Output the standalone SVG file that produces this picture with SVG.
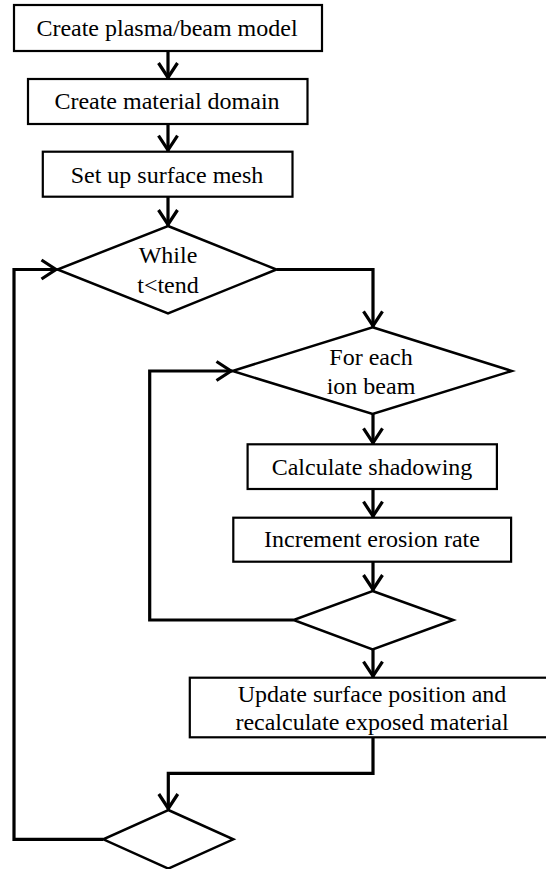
<svg xmlns="http://www.w3.org/2000/svg" width="546" height="869" viewBox="0 0 546 869">
<style>
.box{fill:#fff;stroke:#000;stroke-width:2.2}
.dia{fill:#fff;stroke:#000;stroke-width:2.5;stroke-linejoin:miter}
.t{font-family:"Liberation Serif","Times New Roman",serif;font-size:24px;fill:#000;text-anchor:middle}
.c{fill:none;stroke:#000;stroke-width:3.2;stroke-linejoin:miter}
</style>
<defs>
<marker id="ah" markerUnits="userSpaceOnUse" markerWidth="24" markerHeight="24" viewBox="-20 -12 24 24" refX="0" refY="0" orient="auto" overflow="visible">
<path d="M-16,-9.5 L-1.5,0 L-16,9.5" fill="none" stroke="#000" stroke-width="3.2" stroke-linejoin="miter"/>
</marker>
</defs>
<rect width="546" height="869" fill="#fff"/>
<g id="connectors">
<path class="c" d="M168,51 V79" marker-end="url(#ah)"/>
<path class="c" d="M168,124 V151.7" marker-end="url(#ah)"/>
<path class="c" d="M168,196.7 V226" marker-end="url(#ah)"/>
<path class="c" d="M276.5,269.5 H373 V327.3" marker-end="url(#ah)"/>
<path class="c" d="M373,414 V444.3" marker-end="url(#ah)"/>
<path class="c" d="M373,489 V517.7" marker-end="url(#ah)"/>
<path class="c" d="M373,561.7 V591" marker-end="url(#ah)"/>
<path class="c" d="M293.5,620 H149.7 V371 H232.5" marker-end="url(#ah)"/>
<path class="c" d="M373,649.3 V677.7" marker-end="url(#ah)"/>
<path class="c" d="M373,737.3 V773.3 H168.3 V810" marker-end="url(#ah)"/>
<path class="c" d="M103.3,839.3 H14 V269.5 H57.5" marker-end="url(#ah)"/>
</g>
<g id="n1"><rect class="box" x="14" y="5" width="308" height="46"/><text class="t" x="167" y="36">Create plasma/beam model</text></g>
<g id="n2"><rect class="box" x="28" y="79" width="279.5" height="45"/><text class="t" x="167" y="109.3">Create material domain</text></g>
<g id="n3"><rect class="box" x="42.8" y="151.7" width="249.7" height="45"/><text class="t" x="167" y="183.3">Set up surface mesh</text></g>
<g id="n4"><polygon class="dia" points="168,226 276.5,269.5 168,313.3 57.5,269.5"/><text class="t" x="168" y="263.3">While</text><text class="t" x="168" y="292.7">t&lt;tend</text></g>
<g id="n5"><polygon class="dia" points="372.6,327.3 511.8,371 372.6,414 232.5,371"/><text class="t" x="371" y="365">For each</text><text class="t" x="371" y="394">ion beam</text></g>
<g id="n6"><rect class="box" x="247.6" y="444.3" width="249.3" height="44.7"/><text class="t" x="372" y="475">Calculate shadowing</text></g>
<g id="n7"><rect class="box" x="233.3" y="517.7" width="277.8" height="44"/><text class="t" x="372" y="547.3">Increment erosion rate</text></g>
<g id="n8"><polygon class="dia" points="372.6,591 453.3,620 372.6,649.3 293.5,620"/></g>
<g id="n9"><rect class="box" x="189.8" y="677.7" width="366" height="59.6"/><text class="t" x="372" y="701.7">Update surface position and</text><text class="t" x="372" y="730">recalculate exposed material</text></g>
<g id="n10"><polygon class="dia" points="168.3,810 233.3,839.3 168.3,868.6 103.3,839.3"/></g>
</svg>
